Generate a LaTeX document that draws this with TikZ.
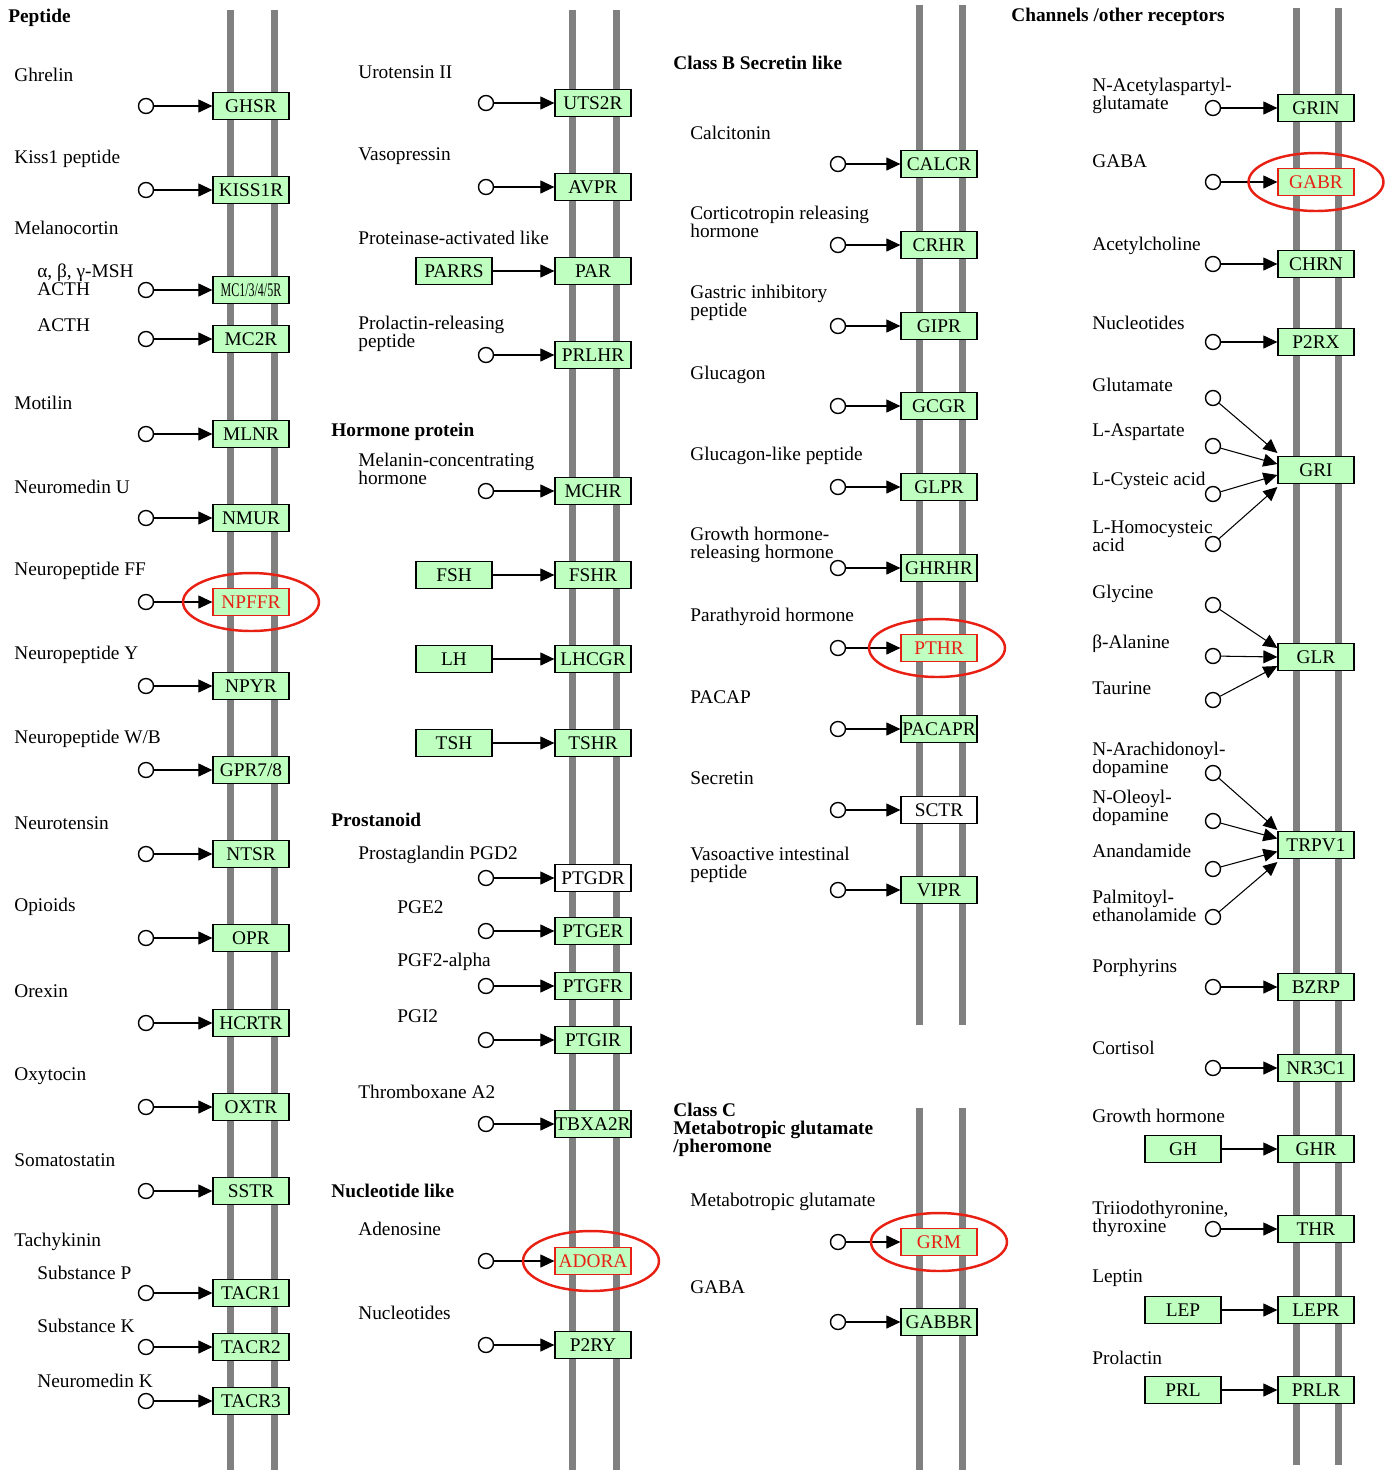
\documentclass[tikz,border=0pt]{standalone}
\usepackage{fontspec}
\setmainfont{Liberation Serif}
\usetikzlibrary{arrows.meta}
\definecolor{kgreen}{RGB}{191,255,191}
\definecolor{kred}{RGB}{232,32,20}
\definecolor{kgray}{RGB}{128,128,128}

\begin{document}
\begin{tikzpicture}[x=0.02cm,y=-0.02cm,
	font=\fontsize{11}{10.2}\selectfont,
	mem/.style={draw=kgray,line width=0.14cm},
	gene/.style={draw,fill=kgreen,line width=0.7pt,minimum width=1.52cm,minimum height=0.54cm,inner sep=0pt},
	hit/.style={gene,draw=kred,text=kred},
	nogene/.style={gene,fill=white},
	lig/.style={circle,draw,line width=0.8pt,fill=white,minimum size=0.3cm,inner sep=0pt},
	lbl/.style={anchor=west,align=left,inner sep=0pt},
	hd/.style={lbl,font=\fontsize{11}{10.4}\selectfont\bfseries},
	act/.style={-{Triangle[length=0.28cm,width=0.26cm]},line width=0.6pt},
	ring/.style={draw=kred,line width=1.4pt}]

	\useasboundingbox (0,0) rectangle (1391,1472);

	% membranes
	\draw[mem] (230,10) -- (230,1470);
	\draw[mem] (274,10) -- (274,1470);
	\draw[mem] (572,10) -- (572,1470);
	\draw[mem] (616,10) -- (616,1470);
	\draw[mem] (919,5) -- (919,1025);
	\draw[mem] (962,5) -- (962,1025);
	\draw[mem] (919,1108) -- (919,1470);
	\draw[mem] (962,1108) -- (962,1470);
	\draw[mem] (1296,8) -- (1296,1465);
	\draw[mem] (1338,8) -- (1338,1465);

	% Peptide
	\node[hd] (hpep) at (8,18) {Peptide};
	\node[lbl] (tghrelin) at (14,75) {Ghrelin};
	\node[lig] (ghrelin) at (146,106) {};
	\node[gene] (ghsr) at (251,106) {GHSR};
	\draw[act] (ghrelin) -- (ghsr);
	\node[lbl] (tkiss) at (14,159) {Kiss1 peptide};
	\node[lig] (kiss) at (146,190) {};
	\node[gene] (kiss1r) at (251,190) {KISS1R};
	\draw[act] (kiss) -- (kiss1r);
	\node[lbl] (tmelano) at (14,228) {Melanocortin};
	\node[lbl] (tmsh) at (37,280) {α, β, γ-MSH\\ACTH};
	\node[lig] (msh) at (146,290) {};
	\node[gene] (mcr) at (251,290) {\scalebox{0.62}[1]{MC1/3/4/5R}};
	\draw[act] (msh) -- (mcr);
	\node[lbl] (tacth) at (37,325) {ACTH};
	\node[lig] (acth) at (146,339) {};
	\node[gene] (mc2r) at (251,339) {MC2R};
	\draw[act] (acth) -- (mc2r);
	\node[lbl] (tmotilin) at (14,403) {Motilin};
	\node[lig] (motilin) at (146,434) {};
	\node[gene] (mlnr) at (251,434) {MLNR};
	\draw[act] (motilin) -- (mlnr);
	\node[lbl] (tnmu) at (14,487) {Neuromedin U};
	\node[lig] (nmu) at (146,518) {};
	\node[gene] (nmur) at (251,518) {NMUR};
	\draw[act] (nmu) -- (nmur);
	\node[lbl] (tnpff) at (14,571) {Neuropeptide FF};
	\node[lig] (npff) at (146,602) {};
	\node[hit] (npffr) at (251,602) {NPFFR};
	\draw[act] (npff) -- (npffr);
	\node[lbl] (tnpy) at (14,655) {Neuropeptide Y};
	\node[lig] (npy) at (146,686) {};
	\node[gene] (npyr) at (251,686) {NPYR};
	\draw[act] (npy) -- (npyr);
	\node[lbl] (tnpw) at (14,739) {Neuropeptide W/B};
	\node[lig] (npw) at (146,770) {};
	\node[gene] (gpr) at (251,770) {GPR7/8};
	\draw[act] (npw) -- (gpr);
	\node[lbl] (tnts) at (14,823) {Neurotensin};
	\node[lig] (nts) at (146,854) {};
	\node[gene] (ntsr) at (251,854) {NTSR};
	\draw[act] (nts) -- (ntsr);
	\node[lbl] (topioid) at (14,907) {Opioids};
	\node[lig] (opioid) at (146,938) {};
	\node[gene] (opr) at (251,938) {OPR};
	\draw[act] (opioid) -- (opr);
	\node[lbl] (torexin) at (14,991) {Orexin};
	\node[lig] (orexin) at (146,1023) {};
	\node[gene] (hcrtr) at (251,1023) {HCRTR};
	\draw[act] (orexin) -- (hcrtr);
	\node[lbl] (toxt) at (14,1076) {Oxytocin};
	\node[lig] (oxt) at (146,1107) {};
	\node[gene] (oxtr) at (251,1107) {OXTR};
	\draw[act] (oxt) -- (oxtr);
	\node[lbl] (tsst) at (14,1160) {Somatostatin};
	\node[lig] (sst) at (146,1191) {};
	\node[gene] (sstr) at (251,1191) {SSTR};
	\draw[act] (sst) -- (sstr);
	\node[lbl] (ttac) at (14,1242) {Tachykinin};
	\node[lbl] (tsubp) at (37,1273) {Substance P};
	\node[lig] (subp) at (146,1293) {};
	\node[gene] (tacr1) at (251,1293) {TACR1};
	\draw[act] (subp) -- (tacr1);
	\node[lbl] (tsubk) at (37,1326) {Substance K};
	\node[lig] (subk) at (146,1347) {};
	\node[gene] (tacr2) at (251,1347) {TACR2};
	\draw[act] (subk) -- (tacr2);
	\node[lbl] (tnmk) at (37,1381) {Neuromedin K};
	\node[lig] (nmk) at (146,1401) {};
	\node[gene] (tacr3) at (251,1401) {TACR3};
	\draw[act] (nmk) -- (tacr3);

	% second column
	\node[lbl] (tuts) at (358,72) {Urotensin II};
	\node[lig] (uts) at (486,103) {};
	\node[gene] (uts2r) at (593,103) {UTS2R};
	\draw[act] (uts) -- (uts2r);
	\node[lbl] (tavp) at (358,156) {Vasopressin};
	\node[lig] (avp) at (486,187) {};
	\node[gene] (avpr) at (593,187) {AVPR};
	\draw[act] (avp) -- (avpr);
	\node[lbl] (tpar) at (358,238) {Proteinase-activated like};
	\node[gene] (parrs) at (454,271) {PARRS};
	\node[gene] (par) at (593,271) {PAR};
	\draw[act] (parrs) -- (par);
	\node[lbl] (tprlh) at (358,334) {Prolactin-releasing\\peptide};
	\node[lig] (prlh) at (486,355) {};
	\node[gene] (prlhr) at (593,355) {PRLHR};
	\draw[act] (prlh) -- (prlhr);
	\node[hd] (hhorm) at (331,432) {Hormone protein};
	\node[lbl] (tmch) at (358,469) {Melanin-concentrating\\hormone};
	\node[lig] (mch) at (486,491) {};
	\node[gene] (mchr) at (593,491) {MCHR};
	\draw[act] (mch) -- (mchr);
	\node[gene] (fsh) at (454,575) {FSH};
	\node[gene] (fshr) at (593,575) {FSHR};
	\draw[act] (fsh) -- (fshr);
	\node[gene] (lh) at (454,659) {LH};
	\node[gene] (lhcgr) at (593,659) {LHCGR};
	\draw[act] (lh) -- (lhcgr);
	\node[gene] (tsh) at (454,743) {TSH};
	\node[gene] (tshr) at (593,743) {TSHR};
	\draw[act] (tsh) -- (tshr);
	\node[hd] (hprost) at (331,820) {Prostanoid};
	\node[lbl] (tpgd) at (358,855) {Prostaglandin PGD2};
	\node[lig] (pgd) at (486,878) {};
	\node[nogene] (ptgdr) at (593,878) {PTGDR};
	\draw[act] (pgd) -- (ptgdr);
	\node[lbl] (tpge) at (397,907) {PGE2};
	\node[lig] (pge) at (486,931) {};
	\node[gene] (ptger) at (593,931) {PTGER};
	\draw[act] (pge) -- (ptger);
	\node[lbl] (tpgf) at (397,962) {PGF2-alpha};
	\node[lig] (pgf) at (486,986) {};
	\node[gene] (ptgfr) at (593,986) {PTGFR};
	\draw[act] (pgf) -- (ptgfr);
	\node[lbl] (tpgi) at (397,1016) {PGI2};
	\node[lig] (pgi) at (486,1040) {};
	\node[gene] (ptgir) at (593,1040) {PTGIR};
	\draw[act] (pgi) -- (ptgir);
	\node[lbl] (ttxa) at (358,1092) {Thromboxane A2};
	\node[lig] (txa) at (486,1124) {};
	\node[gene] (tbxa2r) at (593,1124) {TBXA2R};
	\draw[act] (txa) -- (tbxa2r);
	\node[hd] (hnuc) at (331,1191) {Nucleotide like};
	\node[lbl] (tado) at (358,1229) {Adenosine};
	\node[lig] (ado) at (486,1261) {};
	\node[hit] (adora) at (593,1261) {ADORA};
	\draw[act] (ado) -- (adora);
	\node[lbl] (tnucy) at (358,1313) {Nucleotides};
	\node[lig] (nucy) at (486,1345) {};
	\node[gene] (p2ry) at (593,1345) {P2RY};
	\draw[act] (nucy) -- (p2ry);

	% Class B and C
	\node[hd] (hclassb) at (673,63) {Class B Secretin like};
	\node[lbl] (tcalc) at (690,133) {Calcitonin};
	\node[lig] (calc) at (838,164) {};
	\node[gene] (calcr) at (939,164) {CALCR};
	\draw[act] (calc) -- (calcr);
	\node[lbl] (tcrh) at (690,222) {Corticotropin releasing\\hormone};
	\node[lig] (crh) at (838,245) {};
	\node[gene] (crhr) at (939,245) {CRHR};
	\draw[act] (crh) -- (crhr);
	\node[lbl] (tgip) at (690,303) {Gastric inhibitory\\peptide};
	\node[lig] (gip) at (838,326) {};
	\node[gene] (gipr) at (939,326) {GIPR};
	\draw[act] (gip) -- (gipr);
	\node[lbl] (tgcg) at (690,375) {Glucagon};
	\node[lig] (gcg) at (838,406) {};
	\node[gene] (gcgr) at (939,406) {GCGR};
	\draw[act] (gcg) -- (gcgr);
	\node[lbl] (tglp) at (690,456) {Glucagon-like peptide};
	\node[lig] (glp) at (838,487) {};
	\node[gene] (glpr) at (939,487) {GLPR};
	\draw[act] (glp) -- (glpr);
	\node[lbl] (tghrh) at (690,545) {Growth hormone-\\releasing hormone};
	\node[lig] (ghrh) at (838,568) {};
	\node[gene] (ghrhr) at (939,568) {GHRHR};
	\draw[act] (ghrh) -- (ghrhr);
	\node[lbl] (tpth) at (690,617) {Parathyroid hormone};
	\node[lig] (pth) at (838,648) {};
	\node[hit] (pthr) at (939,648) {PTHR};
	\draw[act] (pth) -- (pthr);
	\node[lbl] (tpacap) at (690,697) {PACAP};
	\node[lig] (pacap) at (838,729) {};
	\node[gene] (pacapr) at (939,729) {PACAPR};
	\draw[act] (pacap) -- (pacapr);
	\node[lbl] (tsct) at (690,778) {Secretin};
	\node[lig] (sct) at (838,810) {};
	\node[nogene] (sctr) at (939,810) {SCTR};
	\draw[act] (sct) -- (sctr);
	\node[lbl] (tvip) at (690,865) {Vasoactive intestinal\\peptide};
	\node[lig] (vip) at (838,890) {};
	\node[gene] (vipr) at (939,890) {VIPR};
	\draw[act] (vip) -- (vipr);
	\node[hd] (hclassc) at (673,1130) {Class C\\Metabotropic glutamate\\/pheromone};
	\node[lbl] (tglum) at (690,1202) {Metabotropic glutamate};
	\node[lig] (glum) at (838,1242) {};
	\node[hit] (grm) at (939,1242) {GRM};
	\draw[act] (glum) -- (grm);
	\node[lbl] (tgabab) at (690,1287) {GABA};
	\node[lig] (gabab) at (838,1322) {};
	\node[gene] (gabbr) at (939,1322) {GABBR};
	\draw[act] (gabab) -- (gabbr);

	% Channels / other receptors
	\node[hd] (hchan) at (1011,17) {Channels /other receptors};
	\node[lbl] (tnaag) at (1092,96) {N-Acetylaspartyl-\\glutamate};
	\node[lig] (naag) at (1213,108) {};
	\node[gene] (grin) at (1316,108) {GRIN};
	\draw[act] (naag) -- (grin);
	\node[lbl] (tgaba) at (1092,161) {GABA};
	\node[lig] (gaba) at (1213,182) {};
	\node[hit] (gabr) at (1316,182) {GABR};
	\draw[act] (gaba) -- (gabr);
	\node[lbl] (tach) at (1092,246) {Acetylcholine};
	\node[lig] (ach) at (1213,264) {};
	\node[gene] (chrn) at (1316,264) {CHRN};
	\draw[act] (ach) -- (chrn);
	\node[lbl] (tnucx) at (1092,323) {Nucleotides};
	\node[lig] (nucx) at (1213,342) {};
	\node[gene] (p2rx) at (1316,342) {P2RX};
	\draw[act] (nucx) -- (p2rx);
	\node[gene] (gri) at (1316,470) {GRI};
	\node[lbl] (tglu) at (1092,385) {Glutamate};
	\node[lig] (glu) at (1213,398) {};
	\draw[act] (glu) -- ([yshift=0.34cm]gri.west);
	\node[lbl] (tasp) at (1092,432) {L-Aspartate};
	\node[lig] (asp) at (1213,446) {};
	\draw[act] (asp) -- ([yshift=0.12cm]gri.west);
	\node[lbl] (tcya) at (1092,481) {L-Cysteic acid};
	\node[lig] (cya) at (1213,494) {};
	\draw[act] (cya) -- ([yshift=-0.1cm]gri.west);
	\node[lbl] (thca) at (1092,536) {L-Homocysteic\\acid};
	\node[lig] (hca) at (1213,544) {};
	\draw[act] (hca) -- ([yshift=-0.34cm]gri.west);
	\node[gene] (glr) at (1316,657) {GLR};
	\node[lbl] (tgly) at (1092,594) {Glycine};
	\node[lig] (gly) at (1213,605) {};
	\draw[act] (gly) -- ([yshift=0.18cm]glr.west);
	\node[lbl] (tala) at (1092,644) {β-Alanine};
	\node[lig] (ala) at (1213,656) {};
	\draw[act] (ala) -- (glr.west);
	\node[lbl] (ttau) at (1092,688) {Taurine};
	\node[lig] (tau) at (1213,700) {};
	\draw[act] (tau) -- ([yshift=-0.18cm]glr.west);
	\node[gene] (trpv1) at (1316,845) {TRPV1};
	\node[lbl] (tnada) at (1092,760) {N-Arachidonoyl-\\dopamine};
	\node[lig] (nada) at (1213,773) {};
	\draw[act] (nada) -- ([yshift=0.3cm]trpv1.west);
	\node[lbl] (tolda) at (1092,808) {N-Oleoyl-\\dopamine};
	\node[lig] (olda) at (1213,821) {};
	\draw[act] (olda) -- ([yshift=0.13cm]trpv1.west);
	\node[lbl] (taea) at (1092,851) {Anandamide};
	\node[lig] (aea) at (1213,869) {};
	\draw[act] (aea) -- ([yshift=-0.13cm]trpv1.west);
	\node[lbl] (tpea) at (1092,906) {Palmitoyl-\\ethanolamide};
	\node[lig] (pea) at (1213,917) {};
	\draw[act] (pea) -- ([yshift=-0.34cm]trpv1.west);
	\node[lbl] (tporph) at (1092,968) {Porphyrins};
	\node[lig] (porph) at (1213,987) {};
	\node[gene] (bzrp) at (1316,987) {BZRP};
	\draw[act] (porph) -- (bzrp);
	\node[lbl] (tcort) at (1092,1048) {Cortisol};
	\node[lig] (cort) at (1213,1068) {};
	\node[gene] (nr3c1) at (1316,1068) {NR3C1};
	\draw[act] (cort) -- (nr3c1);
	\node[lbl] (tgh) at (1092,1116) {Growth hormone};
	\node[gene] (gh) at (1183,1149) {GH};
	\node[gene] (ghr) at (1316,1149) {GHR};
	\draw[act] (gh) -- (ghr);
	\node[lbl] (tthy) at (1092,1219) {Triiodothyronine,\\thyroxine};
	\node[lig] (thy) at (1213,1229) {};
	\node[gene] (thr) at (1316,1229) {THR};
	\draw[act] (thy) -- (thr);
	\node[lbl] (tlep) at (1092,1278) {Leptin};
	\node[gene] (lep) at (1183,1310) {LEP};
	\node[gene] (lepr) at (1316,1310) {LEPR};
	\draw[act] (lep) -- (lepr);
	\node[lbl] (tprl) at (1092,1358) {Prolactin};
	\node[gene] (prl) at (1183,1390) {PRL};
	\node[gene] (prlr) at (1316,1390) {PRLR};
	\draw[act] (prl) -- (prlr);

	% highlights
	\draw[ring] (npffr.center) ellipse [x radius=1.36cm, y radius=0.58cm];
	\draw[ring] ([xshift=-0.04cm]adora.center) ellipse [x radius=1.36cm, y radius=0.6cm];
	\draw[ring] ([xshift=-0.04cm]pthr.center) ellipse [x radius=1.36cm, y radius=0.58cm];
	\draw[ring] (grm.center) ellipse [x radius=1.36cm, y radius=0.58cm];
	\draw[ring] (gabr.center) ellipse [x radius=1.35cm, y radius=0.58cm];
\end{tikzpicture}
\end{document}
